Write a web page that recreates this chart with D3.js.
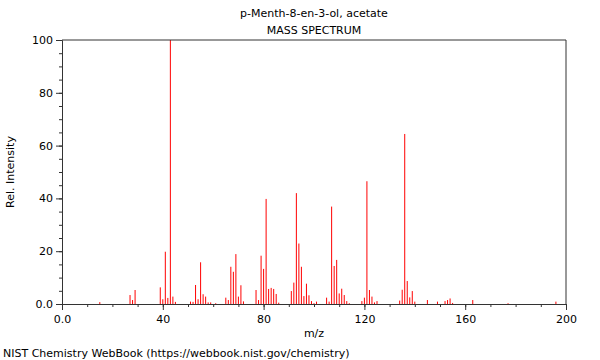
<!DOCTYPE html>
<html>
<head>
<meta charset="utf-8">
<script src="https://cdn.jsdelivr.net/npm/d3@7"></script>
<style>
  body { margin: 0; background: #fff; }
  text { font-family: "DejaVu Sans", sans-serif; fill: #000; }
</style>
</head>
<body>
<div id="chart"></div>
<script>
// peak positions (m/z) and relative intensities
var mz = [15, 27, 28, 29, 39, 40, 41, 42, 43, 44, 45,
          51, 52, 53, 54, 55, 56, 57, 58, 59, 61,
          65, 66, 67, 68, 69, 70, 71, 72,
          77, 78, 79, 80, 81, 82, 83, 84, 85, 86,
          91, 92, 93, 94, 95, 96, 97, 98, 99, 100, 101,
          105, 106, 107, 108, 109, 110, 111, 112, 113, 114,
          119, 120, 121, 122, 123, 124, 125,
          134, 135, 136, 137, 138, 139, 140,
          145, 149, 152, 153, 154, 155, 163, 177, 196];
var intensity = [0.7, 3.4, 1.5, 5.3, 6.3, 1.8, 19.8, 2.3, 100, 2.8, 0.8,
          0.9, 0.8, 7.2, 1.8, 15.8, 3.7, 2.8, 0.6, 0.6, 0.3,
          2.4, 1.5, 14.1, 12.2, 18.9, 2.8, 7.1, 1.0,
          5.3, 1.5, 18.3, 13.3, 39.8, 5.7, 6.1, 5.7, 3.8, 0.5,
          4.9, 8.1, 42.0, 22.9, 14.1, 3.0, 7.7, 3.3, 1.1, 0.3, 0.9,
          2.4, 0.9, 36.9, 14.4, 16.7, 4.0, 5.8, 3.4, 1.1, 0.3,
          1.1, 2.4, 46.5, 5.3, 2.8, 0.6, 1.1,
          1.3, 5.4, 64.4, 8.7, 2.5, 4.9, 0.9,
          1.5, 0.9, 1.1, 1.5, 2.1, 0.4, 1.5, 0.3, 0.9];

var xTicks = [0, 40, 80, 120, 160, 200];
var xTickLabels = ["0.0", "40", "80", "120", "160", "200"];
var yTicks = [0, 20, 40, 60, 80, 100];
var yTickLabels = ["0.0", "20", "40", "60", "80", "100"];

var width = 600, height = 360;
var margin = {left: 62, right: 34, top: 40, bottom: 56};

var svg = d3.select("#chart").append("svg")
  .attr("width", width)
  .attr("height", height);

var x = d3.scaleLinear().domain([0, 200]).range([margin.left, width - margin.right]);
var y = d3.scaleLinear().domain([0, 100]).range([height - margin.bottom, margin.top]);

var axisColor = "#333";

/* peaks */
var peaks = mz.map(function(d, i) { return {mz: d, v: intensity[i]}; });
svg.selectAll(".peak")
    .data(peaks)
  .enter().append("line")
    .attr("class", "peak")
    .attr("x1", function(d) { return x(d.mz); })
    .attr("x2", function(d) { return x(d.mz); })
    .attr("y1", y(0))
    .attr("y2", function(d) { return y(d.v); })
    .attr("stroke", "#ff0000")
    .attr("stroke-width", 1);

/* frame: top and right */
svg.append("path")
  .attr("d", "M" + x(0) + "," + y(100) + "H" + x(200) + "V" + y(0))
  .attr("fill", "none")
  .attr("stroke", axisColor)
  .attr("stroke-width", 1);

/* x axis: minor ticks every 10, labels every 40 */
var gx = svg.append("g").attr("transform", "translate(0," + y(0) + ")");
gx.call(d3.axisBottom(x).tickValues(d3.range(0, 201, 10)).tickSize(3).tickFormat(""))
  .call(function(g) { g.select(".domain").attr("stroke", axisColor); g.selectAll("line").attr("stroke", axisColor); });
gx.append("g")
  .call(d3.axisBottom(x).tickValues(xTicks).tickSize(6)
        .tickFormat(function(d, i) { return xTickLabels[i]; }))
  .call(function(g) {
    g.select(".domain").remove();
    g.selectAll("line").attr("stroke", axisColor);
    g.selectAll("text").attr("font-size", 11).attr("fill", "#000")
      .attr("font-family", "DejaVu Sans, sans-serif").attr("dy", "0.95em");
  });

/* y axis: minor ticks every 5, labels every 20 */
var gy = svg.append("g").attr("transform", "translate(" + x(0) + ",0)");
gy.call(d3.axisLeft(y).tickValues(d3.range(0, 101, 5)).tickSize(3).tickFormat(""))
  .call(function(g) { g.select(".domain").attr("stroke", axisColor); g.selectAll("line").attr("stroke", axisColor); });
gy.append("g")
  .call(d3.axisLeft(y).tickValues(yTicks).tickSize(6)
        .tickFormat(function(d, i) { return yTickLabels[i]; }))
  .call(function(g) {
    g.select(".domain").remove();
    g.selectAll("line").attr("stroke", axisColor);
    g.selectAll("text").attr("font-size", 11).attr("fill", "#000")
      .attr("font-family", "DejaVu Sans, sans-serif");
  });

/* titles and labels */
var cx = (x(0) + x(200)) / 2;
svg.append("text").attr("x", cx).attr("y", 17).attr("text-anchor", "middle")
  .attr("font-size", 11).text("p-Menth-8-en-3-ol, acetate");
svg.append("text").attr("x", cx).attr("y", 34).attr("text-anchor", "middle")
  .attr("font-size", 11).text("MASS SPECTRUM");
svg.append("text").attr("x", cx).attr("y", 337).attr("text-anchor", "middle")
  .attr("font-size", 11).text("m/z");
svg.append("text")
  .attr("transform", "translate(14," + ((y(0) + y(100)) / 2) + ") rotate(-90)")
  .attr("text-anchor", "middle")
  .attr("font-size", 11).text("Rel. Intensity");
svg.append("text").attr("x", 3).attr("y", 357)
  .attr("font-size", 11).text("NIST Chemistry WebBook (https://webbook.nist.gov/chemistry)");
</script>
</body>
</html>
